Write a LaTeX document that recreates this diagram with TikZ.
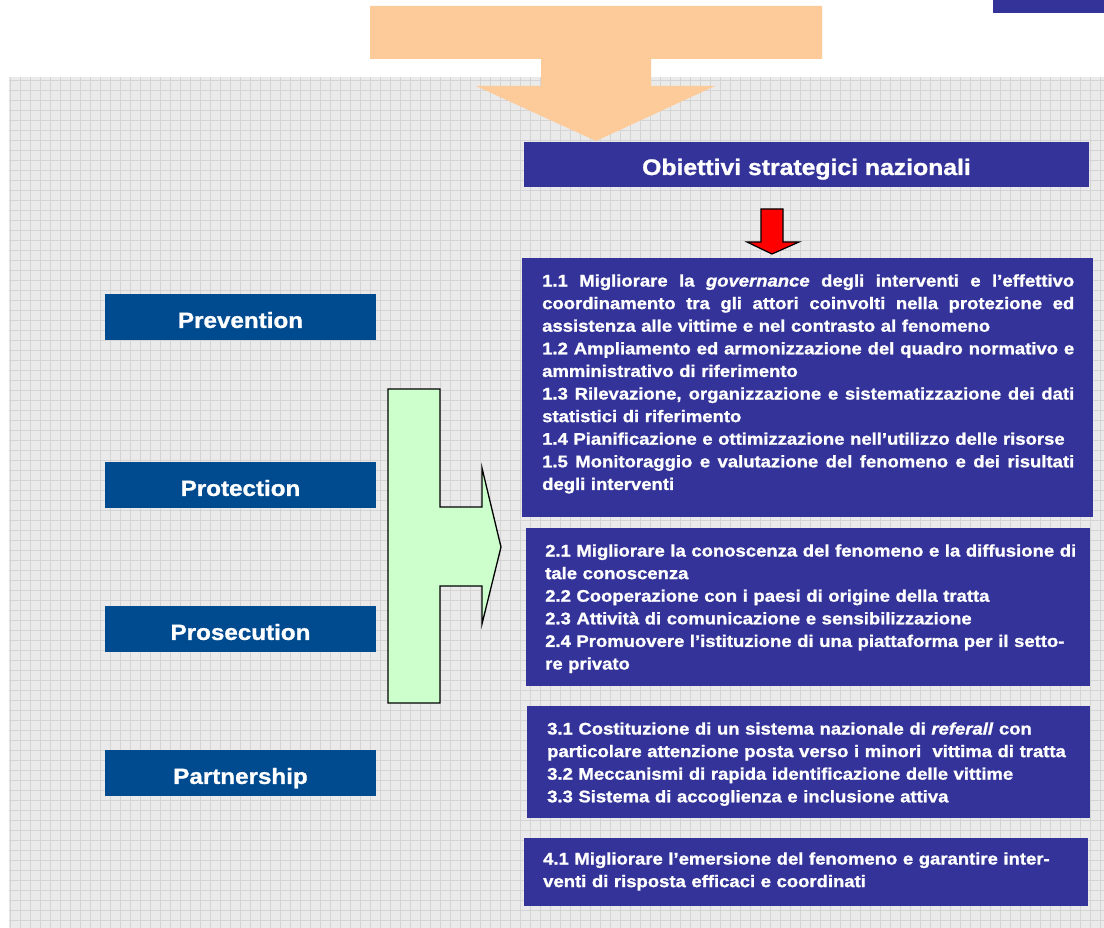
\documentclass[tikz,border=0pt]{standalone}
\usepackage{fontspec}
\setmainfont{Liberation Sans}[FakeStretch=1.1, BoldFeatures={FakeBold=1.2}, BoldItalicFeatures={FakeBold=1.2}]
\definecolor{boxblue}{HTML}{333399}
\definecolor{leftblue}{HTML}{004A8F}
\definecolor{gridbg}{HTML}{EAEAEA}
\definecolor{gridline}{HTML}{D4D4D4}
\definecolor{peach}{HTML}{FDCB9A}
\definecolor{mint}{HTML}{CCFFCC}
\newcommand\bodyfont{\fontsize{16.8}{22.6}\selectfont\bfseries}
\newcommand\jl[1]{\makebox[532pt][s]{\spaceskip=\fontdimen2\font plus 1fil\relax #1}}
\begin{document}
\begin{tikzpicture}[x=1pt,y=-1pt,
  bluebox/.style={fill=boxblue, draw=none, inner sep=0pt},
  leftbox/.style={fill=leftblue, draw=none, inner sep=0pt, minimum width=271pt, minimum height=46pt,
    text=white, font=\fontsize{22}{26}\selectfont\bfseries, text height=21.8pt, text depth=0pt},
  txt/.style={text=white, font=\bodyfont, inner sep=0pt, anchor=north west, align=left, text width=532pt},
  shapeline/.style={draw=black, line width=1.3pt, line join=miter}]
\useasboundingbox (0,0) rectangle (1104,928);
% background grid
\fill[gridbg] (9,77) rectangle (1104,928);
\begin{scope}
\clip (9,77) rectangle (1104,928);
\foreach \x in {10,20,...,1100} \draw[gridline, line width=0.6pt] (\x,77) -- (\x,928);
\foreach \y in {80,90,...,920} \draw[gridline, line width=0.6pt] (9,\y) -- (1104,\y);
\end{scope}
% top right bar
\fill[boxblue] (993,0) rectangle (1104,13);
% orange arrow
\fill[peach] (370,6) -- (822,6) -- (822,59) -- (651,59) -- (651,86) -- (715,86) -- (596,141)
  -- (476,86) -- (541,86) -- (541,59) -- (370,59) -- cycle;
% header
\node[bluebox, minimum width=565pt, minimum height=45pt, text=white, text height=21pt, text depth=0pt,
  font=\fontsize{22.5}{26}\selectfont\bfseries] (head) at (806.5,164.5) {Obiettivi strategici nazionali};
% red arrow
\filldraw[fill=red, draw=black, line width=1.2pt] (761,209) -- (783,209) -- (783,242) -- (799,242)
  -- (772,254) -- (747,242) -- (761,242) -- cycle;
% right boxes
\node[bluebox, minimum width=571pt, minimum height=259pt] (b1) at (807.5,387.5) {};
\node[bluebox, minimum width=564pt, minimum height=158pt] (b2) at (808,607) {};
\node[bluebox, minimum width=563pt, minimum height=112pt] (b3) at (808.5,762) {};
\node[bluebox, minimum width=564pt, minimum height=68pt] (b4) at (806,872) {};
\node[txt] (t1) at (542,270.5) {\strut\jl{1.1 Migliorare la \textit{governance} degli interventi e l’effettivo}\\
\jl{coordinamento tra gli attori coinvolti nella protezione ed}\\
assistenza alle vittime e nel contrasto al fenomeno\\
\jl{1.2 Ampliamento ed armonizzazione del quadro normativo e}\\
amministrativo di riferimento\\
\jl{1.3 Rilevazione, organizzazione e sistematizzazione dei dati}\\
statistici di riferimento\\
1.4 Pianificazione e ottimizzazione nell’utilizzo delle risorse\\
\jl{1.5 Monitoraggio e valutazione del fenomeno e dei risultati}\\
degli interventi};
\node[txt] (t2) at (545,540.5) {\strut 2.1 Migliorare la conoscenza del fenomeno e la diffusione di\\
tale conoscenza\\
2.2 Cooperazione con i paesi di origine della tratta\\
2.3 Attività di comunicazione e sensibilizzazione\\
2.4 Promuovere l’istituzione di una piattaforma per il setto-\\
re privato};
\node[txt] (t3) at (547,718.5) {\strut 3.1 Costituzione di un sistema nazionale di \textit{referall} con\\
particolare attenzione posta verso i minori\ \ vittima di tratta\\
3.2 Meccanismi di rapida identificazione delle vittime\\
3.3 Sistema di accoglienza e inclusione attiva};
\node[txt] (t4) at (543,848.5) {\strut 4.1 Migliorare l’emersione del fenomeno e garantire inter-\\
venti di risposta efficaci e coordinati};
% left boxes
\node[leftbox] (prev) at (240.5,317) {Prevention};
\node[leftbox] (prot) at (240.5,485) {Protection};
\node[leftbox] (pros) at (240.5,629) {Prosecution};
\node[leftbox] (part) at (240.5,773) {Partnership};
% green arrow
\filldraw[fill=mint, shapeline] (388,389) -- (440,389) -- (440,507) -- (482,507) -- (482,468)
  -- (501,547) -- (482,624) -- (482,586) -- (440,586) -- (440,703) -- (388,703) -- cycle;
\end{tikzpicture}
\end{document}
